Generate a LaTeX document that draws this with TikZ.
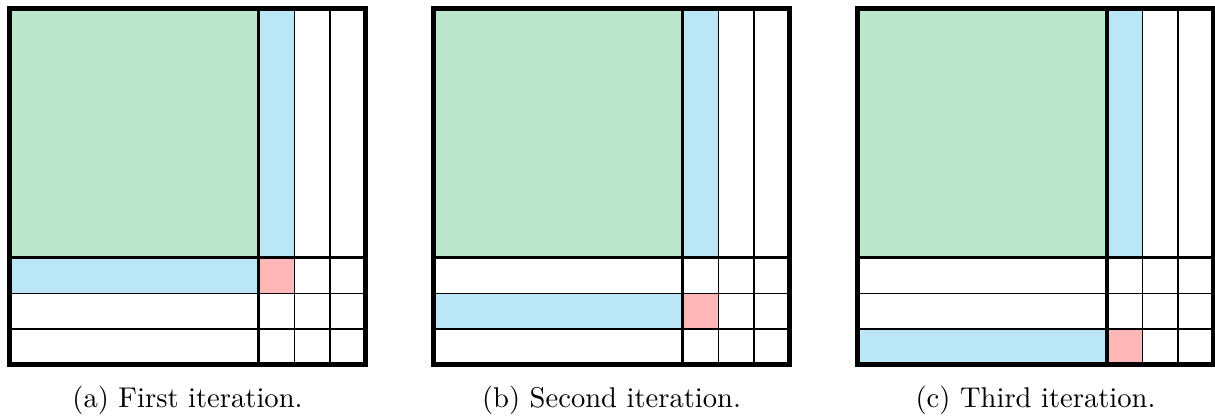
\documentclass[tikz,border=0pt]{standalone}
\usepackage{tikz}
\usepackage{xcolor}
\definecolor{donegreen}{RGB}{187,232,205}
\definecolor{panelblue}{RGB}{186,230,245}
\definecolor{pivotred}{RGB}{255,183,183}

\begin{document}
\begin{tikzpicture}[x=12.46pt, y=12.46pt,
    gridline/.style={line width=0.4pt, draw=black},
    blockline/.style={line width=1.2pt, draw=black},
    frame/.style={line width=1.6pt, draw=black},
    caption/.style={anchor=base, font=\normalsize}
]
\useasboundingbox (-0.267,-1.531) rectangle (33.86,10.239);

\foreach \k/\lbl/\name in {0/a/First, 1/b/Second, 2/c/Third} {
  \begin{scope}[shift={(11.91*\k,0)}]
    % factored part and current strips
    \fill[donegreen] (0,3) rectangle (7,10);
    \fill[panelblue] (7,3) rectangle (8,10);
    \fill[panelblue] (0,2-\k) rectangle (7,3-\k);
    \fill[pivotred] (7,2-\k) rectangle (8,3-\k);

    % cell lines
    \foreach \t in {8,9} \draw[gridline] (\t,0) -- (\t,10);
    \foreach \t in {1,2} \draw[gridline] (0,\t) -- (10,\t);
    \draw[blockline] (7,0) -- (7,10);
    \draw[blockline] (0,3) -- (10,3);
    \draw[frame] (0,0) rectangle (10,10);

    \node[caption] (cap\lbl) at (5,-1.22) {(\lbl) \name\ iteration.};
  \end{scope}
}
\end{tikzpicture}
\end{document}
